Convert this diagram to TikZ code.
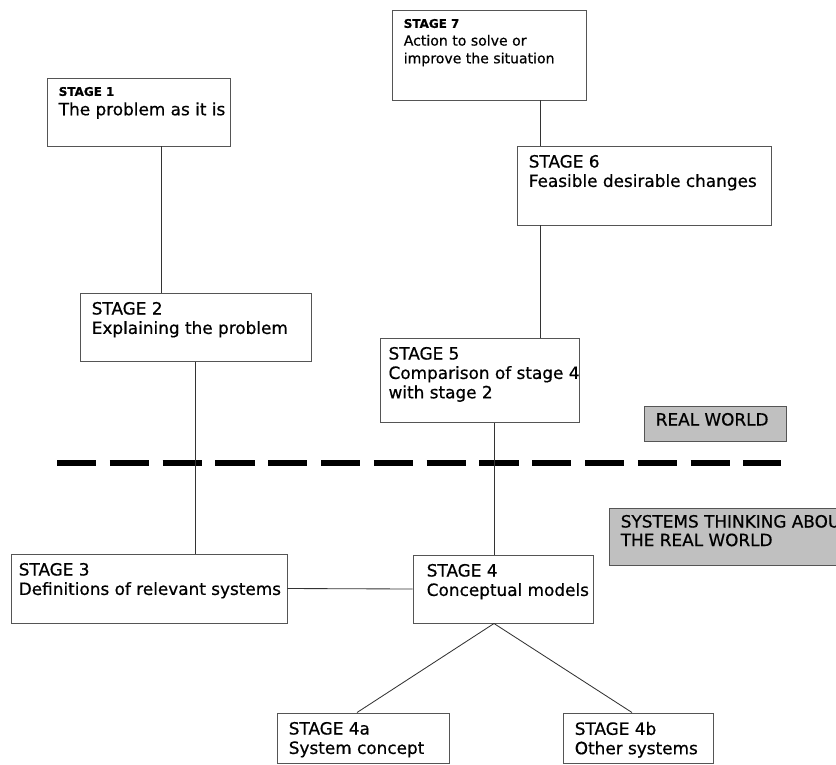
\documentclass[tikz,border=0pt]{standalone}
\usepackage{fontspec}
\setmainfont{DejaVu Sans}[FakeBold=0.6]
\usetikzlibrary{positioning}

\definecolor{boxline}{HTML}{555555}
\definecolor{worldgray}{HTML}{C0C0C0}
\newcommand{\bodyfont}{\fontsize{12}{13.8}\selectfont}
\newcommand{\smallbody}{\fontsize{10}{12.6}\selectfont}
\newcommand{\smallhead}{\fontsize{8.5}{12}\selectfont\bfseries}

\begin{document}
\begin{tikzpicture}[
    stagebox/.style={draw=boxline, line width=0.7pt, minimum width=#1},
    stagebox/.default={4.5cm},
    stagetxt/.style={anchor=north west, align=left, inner xsep=0.3cm, inner ysep=0.23cm, font=\bodyfont},
    worldbox/.style={stagebox=#1, fill=worldgray},
    link/.style={draw=black!80, line width=0.6pt}
]
\clip (0,0) rectangle (20.9,-19.1);

% Real world stages
\node[stagebox=4.575cm, minimum height=1.7cm] (s1) at (3.4625, -2.8) {};
\node[stagetxt] (s1t) at (s1.north west) {{\smallhead STAGE 1}\\The problem as it is};

\node[stagebox=5.775cm, minimum height=1.7cm] (s2) at (4.8875, -8.175) {};
\node[stagetxt] (s2t) at (s2.north west) {STAGE 2\\Explaining the problem};

\node[stagebox=4.975cm, minimum height=2.1cm] (s5) at (11.9875, -9.5) {};
\node[stagetxt, inner xsep=0.22cm] (s5t) at (s5.north west) {STAGE 5\\Comparison of stage 4\\with stage 2};

\node[stagebox=6.35cm, minimum height=1.975cm] (s6) at (16.1, -4.6375) {};
\node[stagetxt] (s6t) at (s6.north west) {STAGE 6\\Feasible desirable changes};

\node[stagebox=4.85cm, minimum height=2.25cm] (s7) at (12.225, -1.375) {};
\node[stagetxt, font=\smallbody] (s7t) at (s7.north west) {{\smallhead STAGE 7}\\Action to solve or\\improve the situation};

% Systems thinking stages
\node[stagebox=6.9cm, minimum height=1.725cm] (s3) at (3.725, -14.7125) {};
\node[stagetxt, inner xsep=0.2cm] (s3t) at (s3.north west) {STAGE 3\\Definitions of relevant systems};

\node[stagebox=4.5cm, minimum height=1.7cm] (s4) at (12.575, -14.725) {};
\node[stagetxt, inner xsep=0.35cm] (s4t) at (s4.north west) {STAGE 4\\Conceptual models};

\node[stagebox=4.3cm, minimum height=1.25cm] (s4a) at (9.075, -18.45) {};
\node[stagetxt] (s4at) at (s4a.north west) {STAGE 4a\\System concept};

\node[stagebox=3.75cm, minimum height=1.25cm] (s4b) at (15.95, -18.45) {};
\node[stagetxt] (s4bt) at (s4b.north west) {STAGE 4b\\Other systems};

% World labels
\node[worldbox=3.55cm, minimum height=0.875cm] (rw) at (17.875, -10.5875) {};
\node[stagetxt, inner ysep=0.18cm] (rwt) at (rw.north west) {REAL WORLD};
\node[worldbox=6.775cm, minimum height=1.425cm] (st) at (18.6125, -13.4125) {};
\node[stagetxt, inner ysep=0.18cm, font=\fontsize{12}{13.2}\selectfont] (stt) at (st.north west) {SYSTEMS THINKING ABOUT\\THE REAL WORLD};

% Boundary
\coordinate (dl) at (1.425, -11.575);
\coordinate (dr) at (19.525, -11.575);
\draw[line width=0.15cm, dash pattern=on 0.98cm off 0.34cm] (dl) -- (dr);

% Links
\coordinate (c12) at (4.025, 0);
\coordinate (c45) at (12.35, 0);
\coordinate (c56) at (13.5, 0);
\draw[link] (s1.south -| c12) -- (s2.north -| c12);
\draw[link] (s2.south) -- (s2.south |- s3.north);
\draw[link] (s3.east) -- (s4.west);
\draw[link] (s4.north -| c45) -- (s5.south -| c45);
\draw[link] (s5.north -| c56) -- (s6.south -| c56);
\draw[link] (s6.north -| c56) -- (s7.south -| c56);
\draw[link] (s4.south -| c45) -- ([xshift=-0.15cm]s4a.north);
\draw[link] (s4.south -| c45) -- ([xshift=-0.15cm]s4b.north);

\end{tikzpicture}
\end{document}
